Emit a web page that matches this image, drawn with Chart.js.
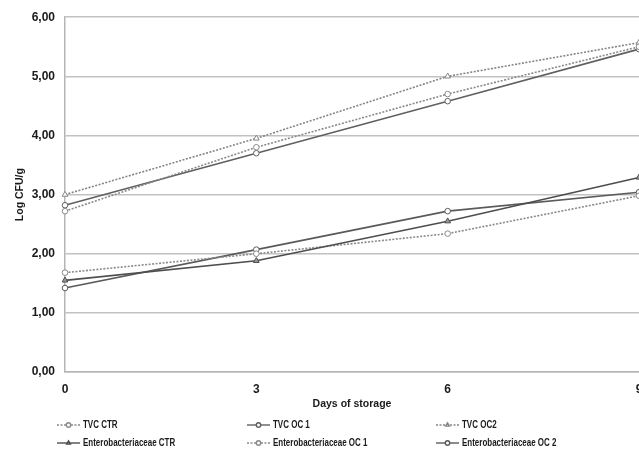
<!DOCTYPE html>
<html lang="en">
<head>
  <meta charset="UTF-8">
  <title>Log CFU/g during storage</title>
  <style>
    html, body { margin: 0; padding: 0; background: #fff; overflow: hidden; }
    #wrap { width: 660px; height: 452px; }
  </style>
</head>
<body>
  <div id="wrap"><canvas id="chart" width="660" height="452"></canvas></div>

  <script src="https://cdn.jsdelivr.net/npm/chart.js"></script>
  <script>
    // Days of storage and Log CFU/g values
    var days = ['0', '3', '6', '9'];
    var tvcCtr = [2.72, 3.80, 4.70, 5.50];
    var tvcOc1 = [2.82, 3.70, 4.58, 5.46];
    var tvcOc2 = [3.00, 3.95, 5.00, 5.57];
    var entCtr = [1.55, 1.88, 2.55, 3.29];
    var entOc1 = [1.68, 2.00, 2.34, 2.98];
    var entOc2 = [1.42, 2.07, 2.72, 3.04];

    var seriesNames = ['TVC CTR', 'TVC OC 1', 'TVC OC2', 'Enterobacteriaceae CTR', 'Enterobacteriaceae OC 1', 'Enterobacteriaceae OC 2'];
    var yTicks = [0, 1, 2, 3, 4, 5, 6];

    var FONT = "'Liberation Sans', Arial, sans-serif";

    function makeSet(label, data, color, dashed, marker, fill) {
      return {
        label: label,
        data: data,
        borderColor: color,
        borderWidth: 1.6,
        borderDash: dashed ? [2, 1.5] : [],
        pointStyle: marker,
        pointRadius: marker === 'triangle' ? 3.3 : 2.8,
        pointBorderWidth: 1,
        pointBorderColor: color,
        pointBackgroundColor: fill,
        tension: 0,
        fill: false
      };
    }

    // legend drawn under the x axis, 3 columns x 2 rows
    var legendPlugin = {
      id: 'bottomLegend',
      afterDraw: function(chart) {
        var ctx = chart.ctx;
        var cols = [57, 247, 436];
        var rows = [425, 443];
        chart.data.datasets.forEach(function(ds, i) {
          var x = cols[i % 3];
          var y = rows[Math.floor(i / 3)];
          ctx.save();
          ctx.strokeStyle = ds.borderColor;
          ctx.lineWidth = 1.4;
          ctx.setLineDash(ds.borderDash);
          ctx.beginPath();
          ctx.moveTo(x, y);
          ctx.lineTo(x + 23, y);
          ctx.stroke();
          ctx.setLineDash([]);
          ctx.fillStyle = ds.pointBackgroundColor;
          Chart.helpers.drawPoint(ctx, { pointStyle: ds.pointStyle, radius: 2.2, rotation: 0, borderWidth: 1 }, x + 11.5, y);
          ctx.fillStyle = '#1a1a1a';
          ctx.font = 'bold 10.5px ' + FONT;
          ctx.textBaseline = 'middle';
          ctx.translate(x + 26, y);
          ctx.scale(0.76, 1);
          ctx.fillText(ds.label, 0, 0);
          ctx.restore();
        });
      }
    };

    var ctx = document.getElementById('chart').getContext('2d');
    new Chart(ctx, {
      type: 'line',
      data: {
        labels: days,
        datasets: [
          makeSet(seriesNames[0], tvcCtr, '#8a8a8a', true, 'circle', '#ffffff'),
          makeSet(seriesNames[1], tvcOc1, '#606060', false, 'circle', '#ffffff'),
          makeSet(seriesNames[2], tvcOc2, '#858585', true, 'triangle', '#ffffff'),
          makeSet(seriesNames[3], entCtr, '#4e4e4e', false, 'triangle', '#9a9a9a'),
          makeSet(seriesNames[4], entOc1, '#8a8a8a', true, 'circle', '#ffffff'),
          makeSet(seriesNames[5], entOc2, '#5a5a5a', false, 'circle', '#ffffff')
        ]
      },
      options: {
        responsive: false,
        animation: false,
        layout: { padding: { top: 17, right: 21, bottom: 0, left: 0 } },
        plugins: {
          legend: { display: false },
          tooltip: { enabled: false }
        },
        scales: {
          x: {
            offset: false,
            grid: { display: false, drawTicks: false },
            border: { display: true, color: '#b5b5b5', width: 1.5 },
            ticks: {
              padding: 10,
              color: '#1a1a1a',
              font: { family: FONT, size: 12, weight: 'bold' },
              maxRotation: 0
            },
            title: {
              display: true,
              text: 'Days of storage',
              color: '#1a1a1a',
              font: { family: FONT, size: 10.5, weight: 'bold' },
              padding: { top: 0, bottom: 41.5 }
            },
            afterFit: function(scale) { scale.height = 80; }
          },
          y: {
            min: 0,
            max: 6,
            grid: { color: '#c2c2c2', lineWidth: 1.5, drawTicks: false },
            border: { display: true, color: '#b5b5b5', width: 1.5 },
            afterBuildTicks: function(scale) {
              scale.ticks = yTicks.map(function(v) { return { value: v }; });
            },
            ticks: {
              padding: 10,
              color: '#1a1a1a',
              font: { family: FONT, size: 12, weight: 'bold' },
              callback: function(v) { return v.toFixed(2).replace('.', ','); }
            },
            title: {
              display: true,
              text: 'Log CFU/g',
              color: '#1a1a1a',
              font: { family: FONT, size: 10.5, weight: 'bold' },
              padding: { top: 13.5, bottom: 0 }
            },
            afterFit: function(scale) { scale.width = 65; }
          }
        }
      },
      plugins: [legendPlugin]
    });
  </script>
</body>
</html>
